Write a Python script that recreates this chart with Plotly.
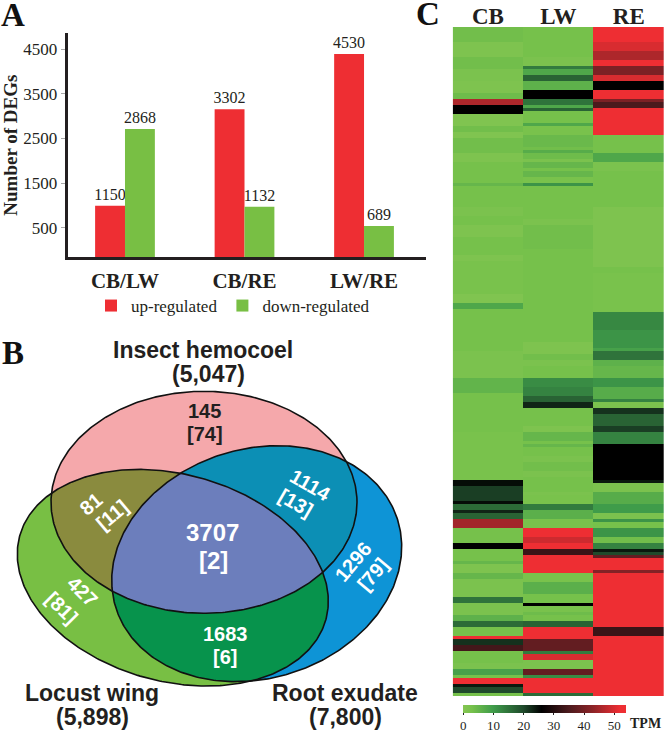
import numpy as np
import plotly.graph_objects as go

W, H = 664, 733
SERIF = "Liberation Serif"
SANS = "Liberation Sans"
INK = "#231f20"

# panel A
pairs = ["CB/LW", "CB/RE", "LW/RE"]
up_bars = [993, 3155, 4395]
down_bars = [2713, 971, 538]
up_labels = ["1150", "3302", "4530"]
down_labels = ["2868", "1132", "689"]
count_ticks = [500, 1500, 2500, 3500, 4500]
count_floor = -164

# panel B
ellipse_names = ["Insect hemocoel", "Locust wing", "Root exudate"]
ellipse_cx = [204, 172.8, 256.7]
ellipse_cy = [502.3, 577.7, 563.7]
ellipse_a = [153, 158.7, 147.6]
ellipse_b = [111, 103.6, 114.7]
ellipse_deg = [0, 15.25, -17.3]
region_colors = ["#f5a8ab", "#78bf44", "#8a8b3e", "#0e94d6", "#0c8fb5", "#07934c", "#6c7ebc"]

# panel C, each column is (TPM, last row of that block)
samples = ["CB", "LW", "RE"]
n_rows = 223
cb_runs = [(3.5, 5), (1.5, 10), (3.5, 14), (2, 18), (1.5, 22), (4, 24), (46, 26), (26, 29), (1, 33), (3.5, 35),
           (1, 37), (3.5, 42), (1.5, 45), (3, 52), (5, 53), (3, 60), (2, 63), (3, 66), (1.5, 70), (3, 76),
           (1.5, 78), (2.5, 89), (1, 92), (8, 94), (3, 108), (2, 117), (5.5, 122), (3, 135), (2.5, 151), (25, 153),
           (21, 158), (25, 159), (16, 161), (23, 162), (17, 164), (45, 167), (3, 172), (26, 174), (3, 178), (5, 179),
           (1.5, 182), (5, 184), (2, 190), (15, 192), (2, 196), (6, 198), (16, 200), (3, 203), (52, 204), (22, 206),
           (34, 208), (3, 212), (2, 214), (9, 216), (3, 217), (52, 219), (24, 220), (20, 222), (3, 223)]
lw_runs = [(3, 10), (2, 13), (14, 14), (8, 16), (17, 18), (6, 21), (26, 24), (15, 26), (8, 27), (17, 28),
           (3, 32), (8, 33), (2.5, 36), (4.5, 40), (3.5, 41), (7, 42), (4, 44), (2, 45), (5, 47), (3, 48),
           (5, 50), (2.5, 52), (11, 53), (3, 64), (2, 66), (3.5, 74), (3, 105), (1.5, 109), (3.5, 111), (2, 113),
           (3, 117), (12, 120), (13, 123), (17, 125), (23, 127), (3, 133), (1.5, 135), (5, 138), (3, 139), (5, 140),
           (3, 143), (2, 145), (3.5, 148), (2, 150), (3, 155), (2, 156), (2.5, 159), (14, 161), (6.5, 164), (2.5, 167),
           (52, 170), (49, 172), (52, 174), (33, 176), (52, 182), (2.5, 185), (6.5, 189), (3, 192), (26, 193), (2.5, 195),
           (4, 196), (3, 198), (17, 200), (52, 204), (38, 208), (14, 209), (50, 211), (2, 214), (38, 216), (12, 217),
           (52, 222), (16, 223)]
re_runs = [(52, 5), (50, 8), (46, 11), (52, 13), (41, 16), (50, 18), (26, 21), (52, 24), (41, 25), (35, 27),
           (52, 36), (3, 42), (8, 45), (2, 48), (3, 60), (1.5, 80), (3, 82), (2.5, 95), (12.5, 101), (11, 107),
           (9, 108), (15, 111), (6, 113), (5, 117), (11, 120), (7, 124), (13, 125), (2, 127), (22, 129), (17, 133),
           (21, 135), (13, 139), (26, 151), (24, 152), (2, 155), (7, 159), (10, 162), (2, 164), (11, 165), (3, 167),
           (11, 170), (3.5, 172), (13, 174), (24, 175), (20, 176), (38, 177), (52, 181), (42, 182), (52, 200), (33, 203),
           (52, 223)]
tpm_ticks = [0, 10, 20, 30, 40, 50]
tpm_max = 54
tpm_scale = [(0, "#85c553"), (3 / 54, "#76c14b"), (10 / 54, "#3f9c4a"), (20 / 54, "#1f4a2b"), (26 / 54, "#000000"),
             (35 / 54, "#4b1a1d"), (43 / 54, "#8c2327"), (52 / 54, "#ee2e33"), (1, "#ee2e33")]


def expand(runs):
    out = []
    for value, last in runs:
        out += [value] * (last - len(out))
    return out


def ellipse_terms(X, Y, i):
    t = np.radians(ellipse_deg[i])
    dx, dy = X - ellipse_cx[i], Y - ellipse_cy[i]
    u = dx * np.cos(t) + dy * np.sin(t)
    v = -dx * np.sin(t) + dy * np.cos(t)
    return (u / ellipse_a[i]) ** 2 + (v / ellipse_b[i]) ** 2


fig = go.Figure()

# venn regions: code is a bitmask of which ellipses cover the cell
gx = np.arange(10, 415, 0.5)
gy = np.arange(385, 700, 0.5)
X, Y = np.meshgrid(gx, gy)
code = sum((ellipse_terms(X, Y, i) <= 1) * (2 ** i) for i in range(3)).astype(float)
code[code == 0] = np.nan
stops = []
for i, c in enumerate(region_colors):
    stops += [[i / 7, c], [(i + 1) / 7, c]]
fig.add_trace(go.Heatmap(x=gx, y=gy, z=code, zmin=0.5, zmax=7.5, colorscale=stops, showscale=False,
                         hoverinfo="skip", xaxis="x", yaxis="y"))

theta = np.linspace(0, 2 * np.pi, 400)
for i, name in enumerate(ellipse_names):
    t = np.radians(ellipse_deg[i])
    u, v = ellipse_a[i] * np.cos(theta), ellipse_b[i] * np.sin(theta)
    fig.add_trace(go.Scatter(x=ellipse_cx[i] + u * np.cos(t) - v * np.sin(t),
                             y=ellipse_cy[i] + u * np.sin(t) + v * np.cos(t),
                             mode="lines", line=dict(color="#111111", width=1.6),
                             name=name, showlegend=False, xaxis="x", yaxis="y"))

# bars
fig.add_trace(go.Bar(x=pairs, y=[v - count_floor for v in up_bars], base=count_floor, name="up-regulated",
                     marker=dict(color="#ee2e33", line_width=0), text=up_labels, textposition="outside",
                     constraintext="none", cliponaxis=False, textfont=dict(family=SERIF, size=16, color=INK),
                     xaxis="x2", yaxis="y2"))
fig.add_trace(go.Bar(x=pairs, y=[v - count_floor for v in down_bars], base=count_floor, name="down-regulated",
                     marker=dict(color="#78bf44", line_width=0), text=down_labels, textposition="outside",
                     constraintext="none", cliponaxis=False, textfont=dict(family=SERIF, size=16, color=INK),
                     xaxis="x2", yaxis="y2"))

# heatmap
z = np.array([expand(cb_runs), expand(lw_runs), expand(re_runs)]).T
fig.add_trace(go.Heatmap(x=samples, y=list(range(n_rows)), z=z, zmin=0, zmax=tpm_max, colorscale=tpm_scale,
                         xaxis="x3", yaxis="y3",
                         colorbar=dict(orientation="h", x=463.3 / W, xanchor="left", y=1 - 705 / H, yanchor="top",
                                       lenmode="pixels", len=163.4, thicknessmode="pixels", thickness=8,
                                       xpad=0, ypad=0, outlinewidth=0, tickvals=tpm_ticks, ticks="outside", ticklen=2,
                                       tickcolor=INK, tickfont=dict(family=SERIF, size=13, color=INK))))

fig.update_layout(
    width=W, height=H, margin=dict(l=0, r=0, t=0, b=0, autoexpand=False),
    paper_bgcolor="white", plot_bgcolor="rgba(0,0,0,0)", barmode="group", bargap=0.5, bargroupgap=0,
    font=dict(family=SERIF, color=INK),
    legend=dict(orientation="h", x=91 / W, xanchor="left", y=1 - 288 / H, yanchor="top",
                font=dict(family=SERIF, size=17, color=INK), bgcolor="rgba(0,0,0,0)"),
    xaxis=dict(domain=[0, 1], range=[0, W], visible=False),
    yaxis=dict(domain=[0, 1], range=[H, 0], visible=False),
    xaxis2=dict(domain=[67.5 / W, 425.7 / W], range=[-0.481, 2.516], anchor="y2", showline=True, linecolor=INK,
                linewidth=2.5, showgrid=False, zeroline=False, ticks="outside", ticklen=3, tickcolor="rgba(0,0,0,0)",
                tickfont=dict(family=SERIF, size=21, color=INK), tickvals=pairs, ticktext=[f"<b>{p}</b>" for p in pairs]),
    yaxis2=dict(domain=[1 - 257.3 / H, 1 - 33 / H], range=[count_floor, 4865], anchor="x2", showline=True,
                linecolor=INK, linewidth=2.5, showgrid=False, zeroline=False, tickvals=count_ticks, ticks="outside",
                ticklen=4, tickcolor="#a8a8a8", tickfont=dict(family=SERIF, size=17, color=INK),
                title=dict(text="<b>Number of DEGs</b>", standoff=20, font=dict(family=SERIF, size=19, color=INK))),
    xaxis3=dict(domain=[452.7 / W, 1], anchor="y3", side="top", showgrid=False, zeroline=False, ticks="",
                ticklabelstandoff=-3, tickvals=samples, ticktext=[f"<b>{s}</b>" for s in samples],
                tickfont=dict(family=SERIF, size=23, color=INK)),
    yaxis3=dict(domain=[1 - 696 / H, 1 - 27 / H], range=[n_rows - 0.5, -0.5], anchor="x3", visible=False),
)

# (text, x, y, size, colour, angle, font)
notes = [
    ("<b>A</b>", 13, 15, 33, "#111111", 0, SERIF),
    ("<b>B</b>", 13, 353, 33, "#111111", 0, SERIF),
    ("<b>C</b>", 428, 14, 33, "#111111", 0, SERIF),
    ("<b>TPM</b>", 645, 723, 14, INK, 0, SERIF),
    ("<b>Insect hemocoel</b>", 203, 350, 23, INK, 0, SANS),
    ("<b>(5,047)</b>", 208, 374, 23, INK, 0, SANS),
    ("<b>Locust wing</b>", 92, 693, 23, INK, 0, SANS),
    ("<b>(5,898)</b>", 92, 717, 23, INK, 0, SANS),
    ("<b>Root exudate</b>", 345, 693, 23, INK, 0, SANS),
    ("<b>(7,800)</b>", 345, 717, 23, INK, 0, SANS),
    ("<b>145</b>", 204, 411, 20, INK, 0, SANS),
    ("<b>[74]</b>", 205, 434, 20, INK, 0, SANS),
    ("<b>81</b>", 91, 504, 20, "white", -40, SANS),
    ("<b>[11]</b>", 112, 515, 20, "white", -40, SANS),
    ("<b>1114</b>", 310, 485, 20, "white", 30, SANS),
    ("<b>[13]</b>", 296, 503, 20, "white", 30, SANS),
    ("<b>3707</b>", 212, 532, 24, "white", 0, SANS),
    ("<b>[2]</b>", 213, 560, 24, "white", 0, SANS),
    ("<b>1296</b>", 353, 562, 20, "white", -50, SANS),
    ("<b>[79]</b>", 373, 574, 20, "white", -50, SANS),
    ("<b>427</b>", 82, 591, 20, "white", 45, SANS),
    ("<b>[81]</b>", 62, 608, 20, "white", 45, SANS),
    ("<b>1683</b>", 225, 634, 20, "white", 0, SANS),
    ("<b>[6]</b>", 225, 657, 20, "white", 0, SANS),
]
for text, x, y, size, colour, angle, family in notes:
    fig.add_annotation(text=text, x=x, y=y, xref="x", yref="y", showarrow=False, textangle=angle,
                       font=dict(family=family, size=size, color=colour))

fig.write_html("out.html", config={"displayModeBar": False}, post_script="document.body.style.margin='0'")
